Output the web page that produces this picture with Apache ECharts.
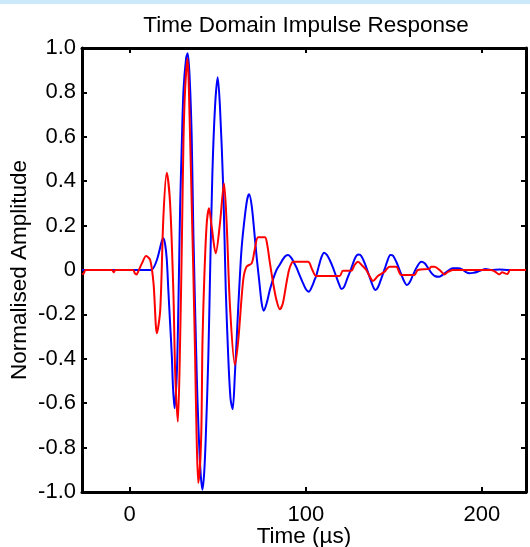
<!DOCTYPE html>
<html>
<head>
<meta charset="utf-8">
<script src="https://cdn.jsdelivr.net/npm/echarts@6/dist/echarts.min.js"></script>
<style>
html,body{margin:0;padding:0;background:#fff;}
#chart{width:530px;height:547px;}
</style>
</head>
<body>
<div id="chart"></div>
<script>
const titleText = 'Time Domain Impulse Response';
const xName = 'Time (µs)';
const yName = 'Normalised Amplitude';
const xTicks = [0, 100, 200];
const yTicks = [-1, -0.8, -0.6, -0.4, -0.2, 0, 0.2, 0.4, 0.6, 0.8, 1];

const blueT = [-27, 0, 10, 12.7, 15.5, 18.3, 19.2, 20.2, 21.1, 22, 23, 24, 24.6, 25.5, 26.8, 27.7, 28.7, 29.7, 30.6, 32.1, 33, 34.2, 35.3, 36.2, 38.1, 39, 40.2, 41.3, 42.3, 43.2, 44.7, 45.7, 47, 48.5, 50, 51.3, 53.2, 54.6, 56, 57.3, 58.5, 59.8, 61.7, 62.6, 63.6, 65.4, 66.8, 67.9, 69.3, 70.7, 72.1, 73.6, 75, 76.2, 77.8, 79.6, 81.5, 83.4, 85.3, 87, 88.5, 90, 91.8, 93.2, 94.7, 96.6, 98.5, 100.2, 101.7, 103.5, 105, 106, 107.5, 108.9, 110.4, 112, 113.6, 115.4, 117.3, 119.2, 120.2, 121.8, 123.5, 125.5, 127.5, 128.8, 130.2, 131.6, 133.5, 135.5, 137.5, 138.7, 139.6, 141, 142.8, 144.8, 146.5, 148, 149.5, 151.5, 153.5, 155.5, 157.4, 159, 161, 163, 165.5, 167.5, 169.5, 171.5, 173.5, 175.8, 178, 180.5, 183.4, 186.5, 189, 191, 192.8, 195, 197.5, 200, 202, 205, 210, 215, 225];
const blueV = [0, 0, 0, 0.002, 0.045, 0.13, 0.143, 0.115, 0.05, -0.09, -0.24, -0.39, -0.52, -0.623, -0.47, -0.165, 0.285, 0.585, 0.81, 0.955, 0.976, 0.85, 0.585, 0.17, -0.465, -0.69, -0.9, -0.99, -0.92, -0.765, -0.39, -0.015, 0.435, 0.735, 0.868, 0.735, 0.36, -0.09, -0.39, -0.58, -0.627, -0.465, -0.165, -0.03, 0.1, 0.24, 0.32, 0.341, 0.29, 0.18, 0.06, -0.05, -0.15, -0.183, -0.15, -0.09, -0.04, 0.0, 0.025, 0.048, 0.063, 0.068, 0.055, 0.035, 0.012, -0.025, -0.06, -0.088, -0.098, -0.075, -0.045, -0.025, 0.02, 0.058, 0.078, 0.068, 0.045, 0.012, -0.03, -0.07, -0.086, -0.075, -0.04, 0.0, 0.045, 0.065, 0.07, 0.062, 0.03, -0.015, -0.06, -0.083, -0.09, -0.078, -0.04, 0.005, 0.045, 0.068, 0.065, 0.035, -0.005, -0.045, -0.068, -0.055, -0.02, 0.012, 0.037, 0.03, 0.008, -0.015, -0.028, -0.03, -0.02, -0.005, 0.008, 0.008, 0.002, -0.01, -0.015, -0.013, -0.008, 0.0, 0.004, 0.0, 0.002, 0.0, 0];

const redT = [-27, -26, -25, -22, -10, -9, -8, 2, 3, 4, 5, 7, 9.4, 11.7, 13.6, 15.5, 17.4, 19.2, 21.1, 23, 24.9, 25.9, 27.4, 28.7, 29.7, 30.6, 31.5, 32.8, 34.4, 35.3, 36.2, 37.2, 38.1, 39, 40.6, 41.4, 42.5, 43.8, 45.1, 46.6, 48.9, 51.3, 53.6, 55.1, 57, 59.8, 61.7, 64.5, 66.4, 69.3, 71, 73, 76.8, 78, 79.5, 81.5, 83.5, 85.3, 87, 89, 90.5, 91.9, 92.8, 101.3, 103.5, 106, 119.2, 121.1, 125.9, 127.5, 129.6, 132, 134.3, 137.2, 138.1, 140.9, 144.7, 146, 147.5, 151.3, 154.2, 161.7, 163.6, 170.2, 171.1, 173, 176, 178.7, 180.5, 183.4, 205, 207, 209.8, 211.5, 213, 214.5, 216, 225];
const redV = [-0.02, -0.015, 0, 0, 0, -0.01, 0, 0, -0.015, -0.02, -0.005, 0.03, 0.063, 0.045, -0.06, -0.285, -0.18, 0.24, 0.438, 0.3, -0.11, -0.465, -0.683, -0.315, 0.135, 0.585, 0.81, 0.953, 0.585, 0.285, -0.015, -0.39, -0.765, -0.96, -0.765, -0.315, -0.015, 0.21, 0.278, 0.195, 0.075, 0.21, 0.39, 0.21, -0.165, -0.428, -0.315, -0.045, 0.015, 0.03, 0.09, 0.147, 0.147, 0.12, 0.04, -0.06, -0.14, -0.177, -0.15, -0.06, 0.0, 0.03, 0.037, 0.037, 0.005, -0.027, -0.027, -0.003, -0.003, 0.02, 0.037, 0.02, 0, -0.042, -0.05, -0.027, -0.008, 0.005, 0.015, 0.015, -0.022, -0.022, 0, 0.005, 0.015, 0.015, 0.0, -0.02, -0.01, 0, 0, -0.005, -0.02, -0.01, -0.015, -0.018, 0, 0];

const xMin = -27, xMax = 225;
const font = 'Liberation Sans, Arial, sans-serif';
const fs = 22;

const chart = echarts.init(document.getElementById('chart'), null, {renderer: 'canvas'});
const blueData = blueT.map((t, i) => [t, blueV[i]]);
const redData = redT.map((t, i) => [t, redV[i]]);
const fmtY = v => Math.abs(v) < 1e-9 ? '0' : v.toFixed(1);

const axisLineStyle = {color: '#000', width: 3};
chart.setOption({
  animation: false,
  backgroundColor: '#fff',
  graphic: [{type: 'rect', shape: {x: 0, y: 0, width: 530, height: 4}, style: {fill: '#cce8fb'}, z: -1}],
  title: {
    text: titleText, left: 301, top: 9, textAlign: 'center',
    textStyle: {fontFamily: font, fontSize: 22.5, fontWeight: 'normal', color: '#000'}
  },
  grid: {left: 82, right: 4, top: 48, bottom: 55, containLabel: false, outerBoundsMode: 'none'},
  xAxis: [{
    type: 'value', min: xMin, max: xMax,
    name: xName, nameLocation: 'middle', nameGap: 33, nameMoveOverlap: false,
    nameTextStyle: {fontFamily: font, fontSize: 22.5, color: '#000'},
    axisLine: {show: true, onZero: false, lineStyle: axisLineStyle},
    axisTick: {show: true, inside: true, length: 5, customValues: xTicks, lineStyle: {color: '#000', width: 2}},
    axisLabel: {customValues: xTicks, fontFamily: font, fontSize: fs, color: '#000', margin: 12},
    splitLine: {show: false}
  }, {
    type: 'value', min: xMin, max: xMax, position: 'top',
    axisLine: {show: true, onZero: false, lineStyle: axisLineStyle},
    axisTick: {show: true, inside: true, length: 5, customValues: xTicks, lineStyle: {color: '#000', width: 2}},
    axisLabel: {show: false}, splitLine: {show: false}
  }],
  yAxis: [{
    type: 'value', min: -1, max: 1, interval: 0.2,
    name: yName, nameLocation: 'middle', nameGap: 51, nameRotate: 90, nameMoveOverlap: false,
    nameTextStyle: {fontFamily: font, fontSize: 22.5, color: '#000'},
    axisLine: {show: true, onZero: false, lineStyle: axisLineStyle},
    axisTick: {show: true, inside: true, length: 5, lineStyle: {color: '#000', width: 2}},
    axisLabel: {formatter: fmtY, fontFamily: font, fontSize: fs, color: '#000', margin: 6},
    splitLine: {show: false}
  }, {
    type: 'value', min: -1, max: 1, interval: 0.2, position: 'right',
    axisLine: {show: true, onZero: false, lineStyle: axisLineStyle},
    axisTick: {show: true, inside: true, length: 5, lineStyle: {color: '#000', width: 2}},
    axisLabel: {show: false}, splitLine: {show: false}
  }],
  series: [{
    type: 'line', data: blueData, xAxisIndex: 0, yAxisIndex: 0,
    showSymbol: false, smooth: 0.3,
    lineStyle: {color: '#0000ff', width: 2}, clip: true
  }, {
    type: 'line', data: redData, xAxisIndex: 0, yAxisIndex: 0,
    showSymbol: false, smooth: 0.3,
    lineStyle: {color: '#ff0000', width: 2}, clip: true
  }]
});
</script>
</body>
</html>
